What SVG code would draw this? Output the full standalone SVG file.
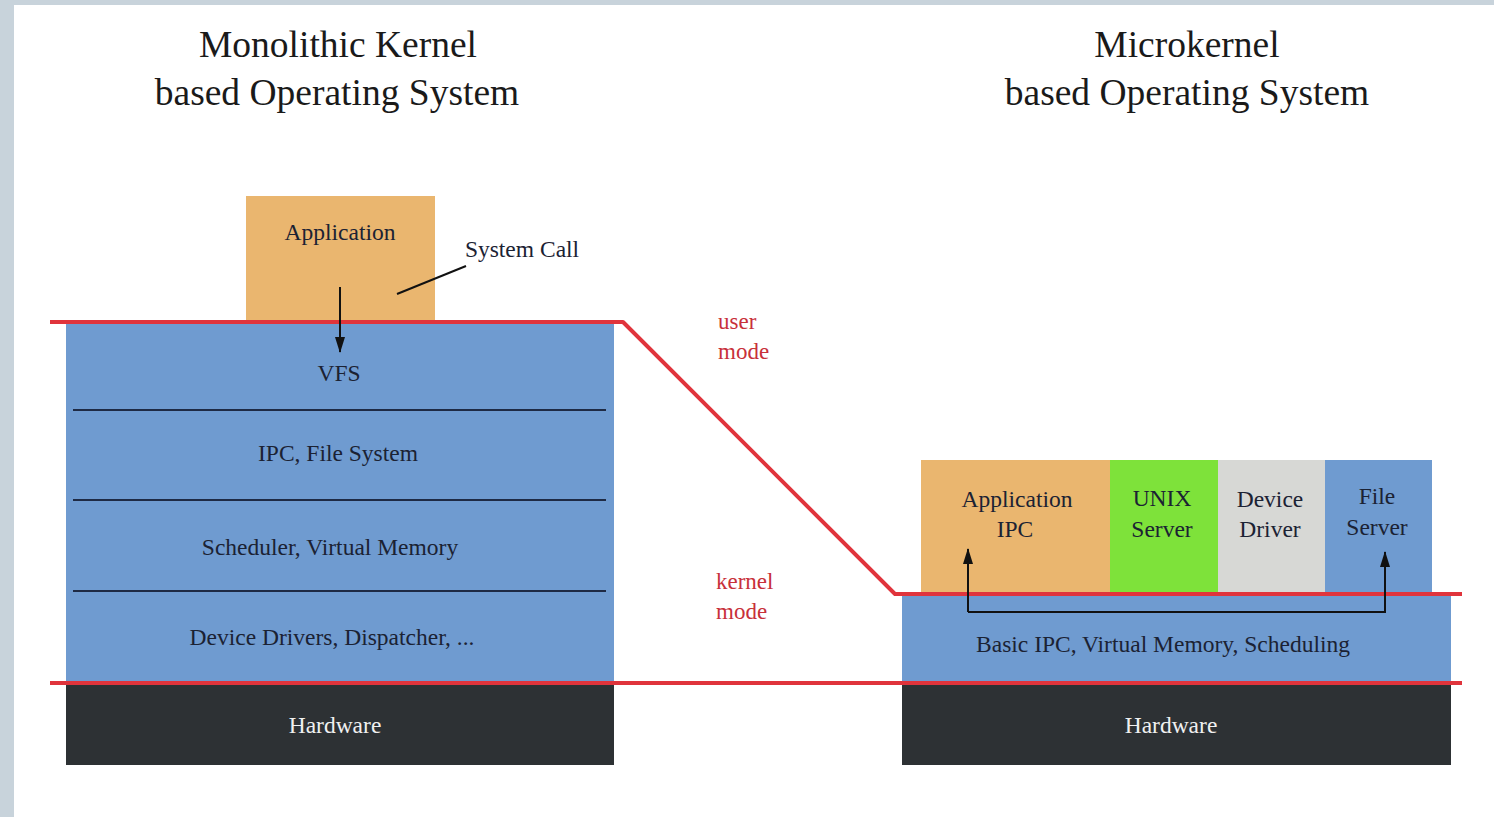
<svg xmlns="http://www.w3.org/2000/svg" width="1494" height="817" viewBox="0 0 1494 817">
  <defs>
    <marker id="arrow" viewBox="0 0 16 10" refX="15" refY="5" markerWidth="16" markerHeight="11" markerUnits="userSpaceOnUse" orient="auto">
      <path d="M0,0 L16,5 L0,10 z" fill="#111"/>
    </marker>
    <style>
      text { font-family: "Liberation Serif", "Times New Roman", serif; }
      .title { font-size: 37.5px; fill: #1a1a1a; text-anchor: middle; }
      .lbl { font-size: 23.5px; fill: #1b2233; text-anchor: middle; }
      .hw { font-size: 23.5px; fill: #f0f0f0; text-anchor: middle; }
      .mode { font-size: 23px; fill: #c8303a; }
      .kern { fill: #6f9bd0; }
      .hwbox { fill: #2d3134; }
      .app { fill: #eab66f; }
      .div { stroke: #1e2a44; stroke-width: 2; }
      .red { stroke: #e0343c; stroke-width: 4; fill: none; stroke-linejoin: round; }
      .conn { stroke: #111; stroke-width: 2; fill: none; }
    </style>
  </defs>

  <!-- page frame -->
  <rect x="0" y="0" width="1494" height="817" fill="#c8d3db"/>
  <rect x="14" y="5" width="1480" height="812" fill="#ffffff"/>

  <!-- titles -->
  <text class="title" x="338" y="57">Monolithic Kernel</text>
  <text class="title" x="337" y="105">based Operating System</text>
  <text class="title" x="1187" y="57">Microkernel</text>
  <text class="title" x="1187" y="105">based Operating System</text>

  <!-- monolithic kernel stack -->
  <g id="mono-kernel">
    <rect class="kern" x="66" y="322" width="548" height="361"/>
    <line class="div" x1="73" y1="410" x2="606" y2="410"/>
    <line class="div" x1="73" y1="500" x2="606" y2="500"/>
    <line class="div" x1="73" y1="591" x2="606" y2="591"/>
    <text class="lbl" x="339" y="381">VFS</text>
    <text class="lbl" x="338" y="461">IPC, File System</text>
    <text class="lbl" x="330" y="555">Scheduler, Virtual Memory</text>
    <text class="lbl" x="332" y="645">Device Drivers, Dispatcher, ...</text>
  </g>
  <g id="mono-app">
    <rect class="app" x="246" y="196" width="189" height="126"/>
    <text class="lbl" x="340" y="240">Application</text>
  </g>
  <g id="mono-hw">
    <rect class="hwbox" x="66" y="683" width="548" height="82"/>
    <text class="hw" x="335" y="733">Hardware</text>
  </g>

  <!-- microkernel stack -->
  <g id="micro-kernel">
    <rect class="kern" x="902" y="594" width="549" height="89"/>
    <text class="lbl" x="1163" y="652">Basic IPC, Virtual Memory, Scheduling</text>
  </g>
  <g id="micro-app">
    <rect class="app" x="921" y="460" width="189" height="134"/>
    <text class="lbl" x="1017" y="507">Application</text>
    <text class="lbl" x="1015" y="537">IPC</text>
  </g>
  <g id="micro-unix">
    <rect x="1110" y="460" width="108" height="134" fill="#7ee23a"/>
    <text class="lbl" x="1162" y="506">UNIX</text>
    <text class="lbl" x="1162" y="537">Server</text>
  </g>
  <g id="micro-driver">
    <rect x="1218" y="460" width="107" height="134" fill="#d7d8d5"/>
    <text class="lbl" x="1270" y="507">Device</text>
    <text class="lbl" x="1270" y="537">Driver</text>
  </g>
  <g id="micro-fs">
    <rect class="kern" x="1325" y="460" width="107" height="134"/>
    <text class="lbl" x="1377" y="504">File</text>
    <text class="lbl" x="1377" y="535">Server</text>
  </g>
  <g id="micro-hw">
    <rect class="hwbox" x="902" y="683" width="549" height="82"/>
    <text class="hw" x="1171" y="733">Hardware</text>
  </g>

  <!-- mode boundaries -->
  <g id="boundaries">
    <polyline class="red" points="50,322 623,322 895,594 1462,594"/>
    <line class="red" x1="50" y1="683" x2="1462" y2="683"/>
    <text class="mode" x="718" y="329">user</text>
    <text class="mode" x="718" y="359">mode</text>
    <text class="mode" x="716" y="589">kernel</text>
    <text class="mode" x="716" y="619">mode</text>
  </g>

  <!-- connectors -->
  <g id="connectors">
    <line class="conn" x1="340" y1="287" x2="340" y2="352" marker-end="url(#arrow)"/>
    <line class="conn" x1="397" y1="294" x2="466" y2="266"/>
    <text class="lbl" x="522" y="257">System Call</text>
    <polyline class="conn" points="968,612 968,549" marker-end="url(#arrow)"/>
    <polyline class="conn" points="968,612 1385,612 1385,552" marker-end="url(#arrow)"/>
  </g>
</svg>
